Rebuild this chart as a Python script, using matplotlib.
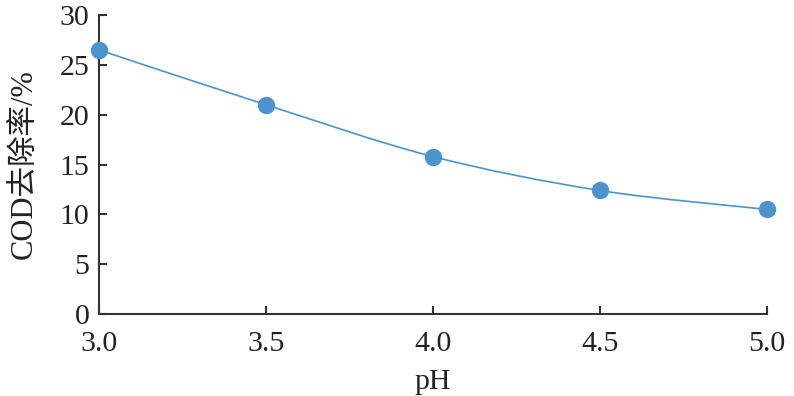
import numpy as np
import matplotlib
matplotlib.use('Agg')
import matplotlib.pyplot as plt
from matplotlib.path import Path
from matplotlib.patches import PathPatch

# dados
ph = [3.0, 3.5, 4.0, 4.5, 5.0]
cod = [26.5, 21.0, 15.8, 12.4, 10.5]

xticks = [3.0, 3.5, 4.0, 4.5, 5.0]
xticklabels = ['3.0', '3.5', '4.0', '4.5', '5.0']
yticks = [0, 5, 10, 15, 20, 25, 30]

cor = '#4D94CF'

plt.rcParams['font.family'] = ['Liberation Serif', 'Noto Sans CJK SC']

fig = plt.figure(figsize=(7.94, 3.96), dpi=100)
ax = fig.add_axes([0.1247, 0.207, 0.841, 0.755])

# curva suave (bezier tipo Catmull-Rom) ligando os pontos
x = np.array(ph)
y = np.array(cod)
verts = [(x[0], y[0])]
codes = [Path.MOVETO]
for i in range(len(x) - 1):
    p0 = (x[i - 1], y[i - 1]) if i > 0 else (x[i], y[i])
    p1 = (x[i], y[i])
    p2 = (x[i + 1], y[i + 1])
    p3 = (x[i + 2], y[i + 2]) if i + 2 < len(x) else (x[i + 1], y[i + 1])
    c1 = (p1[0] + (p2[0] - p0[0]) / 6, p1[1] + (p2[1] - p0[1]) / 6)
    c2 = (p2[0] - (p3[0] - p1[0]) / 6, p2[1] - (p3[1] - p1[1]) / 6)
    verts += [c1, c2, p2]
    codes += [Path.CURVE4] * 3
ax.add_patch(PathPatch(Path(verts, codes), facecolor='none', edgecolor=cor,
                       lw=1.2, clip_on=False, zorder=2))

ax.plot(ph, cod, 'o', color=cor, markersize=11.5, clip_on=False, zorder=3)

ax.set_xlim(3.0, 5.0)
ax.set_ylim(0, 30)
ax.set_xticks(xticks)
ax.set_xticklabels(xticklabels)
ax.set_yticks(yticks)

for s in ['top', 'right']:
    ax.spines[s].set_visible(False)
for s in ['left', 'bottom']:
    ax.spines[s].set_linewidth(1.5)
    ax.spines[s].set_color('#333333')

ax.tick_params(direction='in', length=6, width=1.5, color='#333333',
               labelsize=21.5, labelcolor='#222222')
ax.tick_params(axis='x', pad=12)
ax.tick_params(axis='y', pad=7)

ax.set_xlabel('pH', fontsize=21.5, color='#222222', labelpad=9)
ax.set_ylabel('COD去除率/%', fontsize=22, color='#222222', labelpad=14)

fig.savefig('out.png', dpi=100)
